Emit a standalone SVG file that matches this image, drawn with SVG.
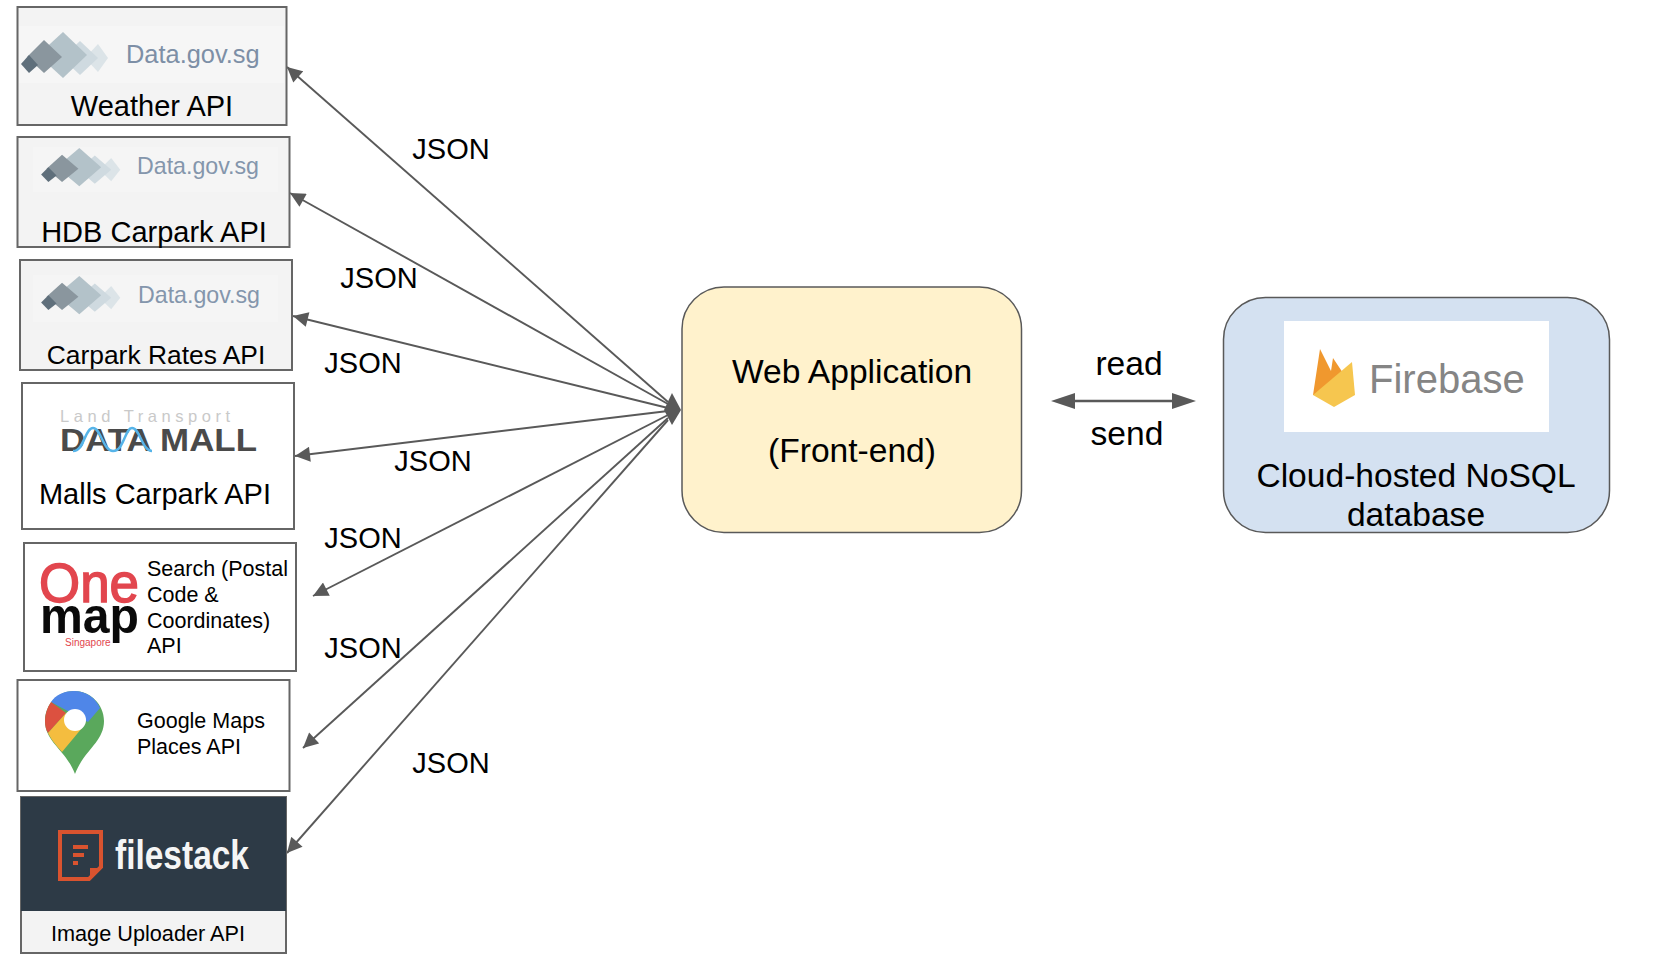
<svg xmlns="http://www.w3.org/2000/svg" width="1672" height="954" viewBox="0 0 1672 954">
<style>
text{font-family:"Liberation Sans",Arial,sans-serif;fill:#000}
.box{stroke:#666;stroke-width:2;fill:#f3f3f3}
.w{fill:#fff}
.lab{font-size:29px;text-anchor:middle}
.sm{font-size:21.5px}
.gov{fill:#7d8fa6;font-size:25.4px}
.gov2{fill:#8496ac;font-size:23.2px}
.big{font-size:33.6px;text-anchor:middle}
.con{stroke:#595959;stroke-width:1.9;fill:none;marker-end:url(#a)}
</style>
<defs>
<marker id="a" viewBox="0 0 10 10" refX="10" refY="5" markerWidth="16" markerHeight="15" markerUnits="userSpaceOnUse" orient="auto"><path d="M0 0L10 5L0 10Z" fill="#595959"/></marker>
<g id="dia">
<path d="M98 44L108 58L98 72L85 58Z" fill="#dce4e8"/>
<path d="M80 41L98 58L80 75L62 58Z" fill="#cfdae0"/>
<path d="M63 32L87 55L63 78L38 55Z" fill="#b3c2c9"/>
<path d="M44 40L62 57L44 73L27 57Z" fill="#8a969e"/>
<path d="M29 55L38 65L29 73L21 64Z" fill="#5f6f7b"/>
</g>
</defs>
<g id="connectors">
<path class="con" d="M668 402L287 67"/>
<path class="con" d="M668 404L290 193"/>
<path class="con" d="M668 408L293 316"/>
<path class="con" d="M668 411L295 456"/>
<path class="con" d="M668 415L313 596"/>
<path class="con" d="M668 418L303 748"/>
<path class="con" d="M668 420L287 853"/>
<path d="M681 410L672 393L664 410L672 425Z" fill="#595959"/>
<path d="M1075 401H1172" stroke="#595959" stroke-width="2.5"/>
<path d="M1051 401L1075 393V409Z" fill="#595959"/>
<path d="M1196 401L1172 393V409Z" fill="#595959"/>
</g>
<g id="edge-labels">
<text class="lab" x="451" y="159">JSON</text>
<text class="lab" x="379" y="288">JSON</text>
<text class="lab" x="363" y="373">JSON</text>
<text class="lab" x="433" y="471">JSON</text>
<text class="lab" x="363" y="548">JSON</text>
<text class="lab" x="363" y="658">JSON</text>
<text class="lab" x="451" y="773">JSON</text>
<text class="big" x="1129" y="375">read</text>
<text class="big" x="1127" y="445">send</text>
</g>
<g id="weather">
<rect class="box" x="17.5" y="7" width="269" height="118"/>
<rect x="19" y="26" width="265" height="57" fill="#f6f6f6"/>
<use href="#dia" x="0" y="0"/>
<text class="gov" x="126" y="63">Data.gov.sg</text>
<text class="lab" x="152" y="116">Weather API</text>
</g>
<g id="hdb">
<rect class="box" x="17.5" y="137" width="272" height="110"/>
<rect x="33" y="147" width="245" height="45" fill="#f5f5f5"/>
<use href="#dia" transform="translate(22 121.5) scale(.91 .83)"/>
<text class="gov2" x="137" y="174">Data.gov.sg</text>
<text class="lab" x="154" y="242">HDB Carpark API</text>
</g>
<g id="rates">
<rect class="box" x="20" y="260" width="272" height="110"/>
<rect x="33" y="275" width="245" height="47" fill="#f5f5f5"/>
<use href="#dia" transform="translate(22 249.5) scale(.91 .83)"/>
<text class="gov2" x="138" y="303">Data.gov.sg</text>
<text x="156" y="364" font-size="26.4" text-anchor="middle">Carpark Rates API</text>
</g>
<g id="malls">
<rect class="box w" x="22" y="383" width="272" height="146"/>
<text x="60" y="422" font-size="16.5" textLength="170" style="fill:#c9c9c9">Land Transport</text>
<text x="60" y="451" font-size="31" textLength="197" lengthAdjust="spacingAndGlyphs" style="fill:#4a4a4a;font-weight:bold">DATA MALL</text>
<path d="M73 451C84 451 85 428 93 428C101 428 103 451 113 451C124 451 125 428 132 428C140 428 142 451 152 451" fill="none" stroke="#56b4e9" stroke-width="2.5"/>
<text class="lab" x="155" y="504">Malls Carpark API</text>
</g>
<g id="onemap">
<rect class="box w" x="24" y="543" width="272" height="128"/>
<text x="39" y="602" font-size="56" textLength="100" lengthAdjust="spacingAndGlyphs" style="fill:#e2464e;stroke:#e2464e;stroke-width:1.5">One</text>
<text x="40" y="633" font-size="50" textLength="99" lengthAdjust="spacingAndGlyphs" style="fill:#0a0a0a;font-weight:bold">map</text>
<text x="65" y="646" font-size="10" style="fill:#e2464e">Singapore</text>
<text class="sm" x="147" y="576">Search (Postal</text>
<text class="sm" x="147" y="602">Code &amp;</text>
<text class="sm" x="147" y="628">Coordinates)</text>
<text class="sm" x="147" y="653">API</text>
</g>
<g id="google">
<rect class="box w" x="17.5" y="680" width="272" height="111"/>
<path d="M74 691C90 691 104 704 104 721C104 742 84 750 75 774C66 750 45 742 45 721C45 704 58 691 74 691Z" fill="#5aa85c"/>
<path d="M100 708C96 698 86 691 74 691C63 691 56 695 51 702L88 722Z" fill="#4f86e8"/>
<path d="M51 702C47 708 45 714 45 721C45 726 46 730 48 733L66 713Z" fill="#dc5140"/>
<path d="M48 733C52 741 57 746 62 752L82 728L66 713Z" fill="#f4bd3f"/>
<circle cx="75" cy="720" r="11" fill="#fff"/>
<text class="sm" x="137" y="728">Google Maps</text>
<text class="sm" x="137" y="754">Places API</text>
</g>
<g id="filestack">
<rect class="box" x="21" y="797" width="265" height="156" fill="#ededed"/>
<rect x="21" y="797" width="265" height="114" fill="#2d3a46"/>
<path d="M60 832H101V867L89 879H60Z" fill="none" stroke="#d9532f" stroke-width="4"/>
<path d="M90 880L102 868H90Z" fill="#d9532f"/>
<path d="M73 845H88V849H73ZM73 853H84V857H73ZM73 861H78V865H73Z" fill="#d9532f"/>
<text x="115" y="869" font-size="41" textLength="134" lengthAdjust="spacingAndGlyphs" style="fill:#f5f5f5;font-weight:bold">filestack</text>
<text x="148" y="941" font-size="21.7" text-anchor="middle">Image Uploader API</text>
</g>
<g id="webapp">
<rect x="682" y="287" width="339.5" height="245.5" rx="42" fill="#fff2cc" stroke="#595959" stroke-width="1.5"/>
<text class="big" x="852" y="383">Web Application</text>
<text class="big" x="852" y="462">(Front-end)</text>
</g>
<g id="database">
<rect x="1223.5" y="297.5" width="386" height="235" rx="42" fill="#d4e1f1" stroke="#595959" stroke-width="1.5"/>
<rect x="1284" y="321" width="265" height="111" fill="#fff"/>
<path d="M1320 349L1331 371L1333 358L1345 376L1320 395L1313 395Z" fill="#f0982e"/>
<path d="M1313 395L1352 362L1355 395L1334 407Z" fill="#f6c64f"/>
<text x="1369" y="393" font-size="40" style="fill:#858585">Firebase</text>
<text class="big" x="1416" y="487">Cloud-hosted NoSQL</text>
<text class="big" x="1416" y="526">database</text>
</g>
</svg>
